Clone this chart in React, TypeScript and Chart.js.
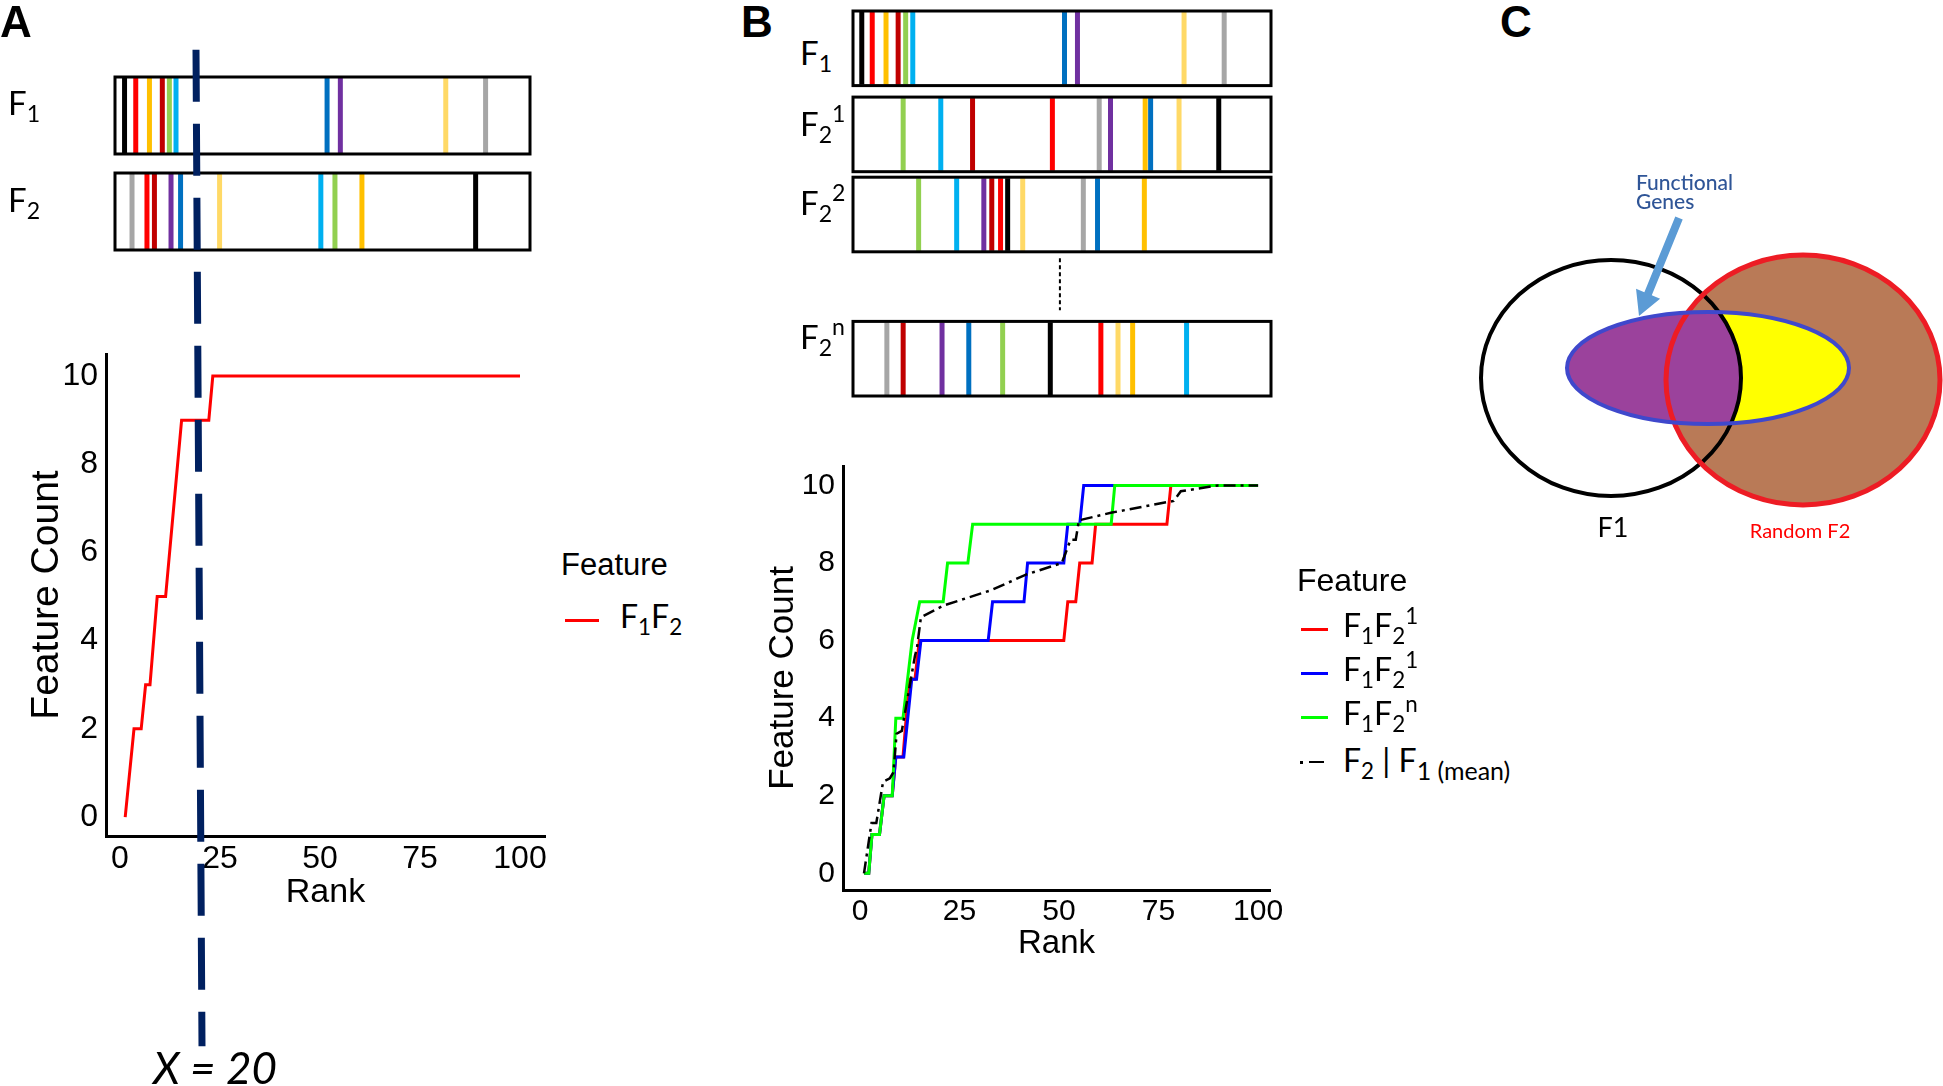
import React, { useEffect, useRef } from 'react';
import { Chart, registerables } from 'chart.js';
Chart.register(...registerables);

// ================= DATA =================
// ten features shown as coloured bars in every rank strip
const featureNames = ['black', 'red', 'orange', 'darkRed', 'green', 'cyan', 'blue', 'purple', 'lightYellow', 'gray'];
const featureColors = ['#000000', '#FF0000', '#FFC000', '#C00000', '#92D050', '#00B0F0', '#0070C0', '#7030A0', '#FFD966', '#A6A6A6'];

// rank position (0-100 along the strip) of each feature, in featureNames order
const stripA_F1 = [2.3, 5.0, 8.3, 11.4, 13.1, 14.7, 51.1, 54.3, 79.7, 89.3];
const stripA_F2 = [86.9, 7.7, 59.5, 9.5, 53.0, 49.6, 15.8, 13.5, 25.2, 4.1];
const stripB_F1 = [2.1, 4.6, 7.9, 10.8, 12.6, 14.3, 50.6, 53.7, 79.2, 88.8];
const stripB_F2_1 = [87.5, 47.7, 69.9, 28.6, 12.0, 21.0, 71.2, 61.6, 78.0, 58.9];
const stripB_F2_2 = [37.0, 35.3, 69.7, 33.2, 15.7, 24.8, 58.5, 31.3, 40.6, 55.1];
const stripB_F2_n = [47.2, 59.3, 66.9, 12.0, 35.8, 79.8, 27.7, 21.3, 63.4, 8.1];

const rankTicks = [0, 25, 50, 75, 100];
const countTicks = [0, 2, 4, 6, 8, 10];

// Panel A: F1F2 cumulative feature count
const aRank = [1.3, 3.5, 5.3, 6.4, 7.5, 9.3, 11.4, 12.4, 13.4, 14.4, 15.4, 22.2, 23.2, 100];
const aCount = [0, 2, 2, 3, 3, 5, 5, 6, 7, 8, 9, 9, 10, 10];
// X = 20 cut-off marker (rank, count ends of the dashed line)
const cutoffRank = [19.0, 20.5];
const cutoffCount = [17.4, -5.2];

// Panel B series
const bRedRank = [1, 2.2, 3, 4.9, 6.05, 8.1, 9, 10.8, 12.4, 13.8, 14.9, 51.2, 52.2, 54.2, 55.2, 58.3, 59.2, 77.1, 78.1, 100];
const bRedCount = [0, 0, 1, 1, 2, 2, 3, 3, 5, 5, 6, 6, 7, 7, 8, 8, 9, 9, 10, 10];
const bBlueRank = [1, 2.2, 3, 4.9, 6.05, 8.1, 9, 11, 13, 14.2, 15.3, 32.2, 33.3, 41.2, 42.1, 51.2, 52.2, 55.2, 56.2, 100];
const bBlueCount = [0, 0, 1, 1, 2, 2, 3, 3, 5, 5, 6, 6, 7, 7, 8, 8, 9, 9, 10, 10];
const bGreenRank = [1, 2.2, 3, 4.9, 6.05, 8.1, 9, 10.8, 13.1, 15, 20.9, 22, 27.1, 28.3, 63.1, 64, 100];
const bGreenCount = [0, 0, 1, 1, 2, 2, 4, 4, 6, 7, 7, 8, 8, 9, 9, 10, 10];
const bMeanRank = [1, 2.9, 4.1, 5.8, 7.5, 8.4, 9.2, 10.5, 13.8, 14.3, 15.3, 20.9, 33, 41.7, 50.7, 52.9, 54.2, 55, 63.3, 78.8, 80.6, 90, 100];
const bMeanCount = [0, 1.3, 1.3, 2.36, 2.45, 2.6, 3.6, 3.67, 5.6, 5.8, 6.6, 6.9, 7.3, 7.7, 8.0, 8.6, 8.6, 9.1, 9.3, 9.6, 9.85, 10, 10];

// Panel C Venn sets (diagram units)
const vennSets = ['F1', 'Random F2', 'Functional Genes'];
const vennCx = [151, 343, 248];
const vennCy = [228, 230, 218];
const vennRx = [130, 137, 141];
const vennRy = [118, 125, 56];
const arrowFrom = [219, 68];
const arrowTo = [179, 166];

// ================= STYLE =================
const SANS = '"Liberation Sans", Arial, Helvetica, sans-serif';
const CAL = 'Lato, "Open Sans", sans-serif';

const toXY = (xs: number[], ys: number[]) => xs.map((x, i) => ({ x, y: ys[i] }));

type Seg = [string, string?];
function Rich({ segs }: { segs: Seg[] }) {
  return (
    <>
      {segs.map(([t, m], i) =>
        m ? (
          <span key={i} style={{ fontSize: m === 'subL' ? '0.78em' : '0.7em', position: 'relative', top: m === 'sup' ? '-0.6em' : '0.32em' }}>{t}</span>
        ) : (
          <span key={i}>{t}</span>
        )
      )}
    </>
  );
}

function Txt(props: any) {
  const { x, cy, size, family = SANS, color = '#000', weight = 400, italic = false, center = false, children } = props;
  const k = family === CAL ? 0.529 : 0.4885;
  return (
    <div
      style={{
        position: 'absolute', left: x, top: cy - k * size, fontFamily: family, fontSize: size, lineHeight: 1,
        color, fontWeight: weight, fontStyle: italic ? 'italic' : 'normal', whiteSpace: 'pre',
        transform: center ? 'translateX(-50%)' : undefined,
      }}
    >
      {children}
    </div>
  );
}

function Bar({ x, y, w, h, color }: any) {
  return <div style={{ position: 'absolute', left: x, top: y - h / 2, width: w, height: h, background: color }} />;
}

function ChartCanvas({ left, top, width, height, config }: any) {
  const ref = useRef<HTMLCanvasElement | null>(null);
  useEffect(() => {
    if (!ref.current) return;
    const chart = new Chart(ref.current, config());
    return () => chart.destroy();
  }, []);
  return <canvas ref={ref} width={width} height={height} style={{ position: 'absolute', left, top, width, height }} />;
}

function barcodeConfig(strips: number[][], rowCenters: number[], yMax: number, padding: any, extra?: (c: any) => void) {
  return {
    type: 'scatter',
    data: {
      datasets: strips.map((pos, r) => ({
        label: 'strip' + r,
        data: pos.map((p) => ({ x: p, y: rowCenters[r] })),
        pointStyle: 'line',
        pointRotation: 90,
        pointBorderColor: featureColors,
        pointBackgroundColor: featureColors,
        pointBorderWidth: 5,
        pointRadius: (ctx: any) => {
          const y = ctx.chart.scales.y;
          return Math.abs(y.getPixelForValue(0.5) - y.getPixelForValue(0)) - 1;
        },
        clip: false,
      })),
    },
    options: {
      responsive: false,
      animation: false,
      events: [],
      layout: { padding },
      plugins: { legend: { display: false }, tooltip: { enabled: false } },
      scales: {
        x: { type: 'linear', min: 0, max: 100, display: false },
        y: { type: 'linear', min: 0, max: yMax, reverse: true, display: false },
      },
    },
    plugins: [
      {
        id: 'stripBoxes',
        afterDatasetsDraw(chart: any) {
          const { ctx } = chart;
          const { x, y } = chart.scales;
          ctx.save();
          ctx.strokeStyle = '#000';
          ctx.lineWidth = 3;
          rowCenters.forEach((c) => {
            const l = x.getPixelForValue(0);
            const r = x.getPixelForValue(100);
            const t = y.getPixelForValue(c - 0.5);
            const b = y.getPixelForValue(c + 0.5);
            ctx.strokeRect(l, Math.min(t, b), r - l, Math.abs(b - t));
          });
          if (extra) extra(chart);
          ctx.restore();
        },
      },
    ],
  };
}

function plotConfig(p: any) {
  return {
    type: 'line',
    data: { datasets: p.datasets },
    options: {
      responsive: false,
      animation: false,
      events: [],
      layout: { padding: p.padding },
      plugins: { legend: { display: false }, tooltip: { enabled: false } },
      elements: { line: { tension: 0 }, point: { radius: 0 } },
      scales: {
        x: {
          type: 'linear', min: p.xMin, max: p.xMax,
          grid: { display: false, drawTicks: false },
          border: { display: true, color: '#000', width: 3 },
          ticks: {
            color: '#000', font: { family: SANS, size: p.tickSize }, padding: p.xTickPad,
            autoSkip: false, maxRotation: 0, minRotation: 0, callback: (v: any) => String(v),
          },
          afterBuildTicks: (s: any) => { s.ticks = rankTicks.map((v) => ({ value: v })); },
          afterFit: (s: any) => { s.height = p.xAxisHeight; },
          title: {
            display: true, text: 'Rank', color: '#000', font: { family: SANS, size: p.xTitleSize },
            padding: { top: 0, bottom: p.xTitlePad },
          },
        },
        y: {
          type: 'linear', min: p.yMin, max: p.yMax,
          grid: { display: false, drawTicks: false },
          border: { display: true, color: '#000', width: 3 },
          ticks: {
            color: '#000', font: { family: SANS, size: p.tickSize }, padding: p.yTickPad,
            autoSkip: false, callback: (v: any) => String(v),
          },
          afterBuildTicks: (s: any) => { s.ticks = countTicks.map((v) => ({ value: v })); },
          afterFit: (s: any) => { s.width = p.yAxisWidth; },
          title: {
            display: true, text: 'Feature Count', color: '#000', font: { family: SANS, size: p.yTitleSize },
            padding: { top: p.yTitlePad, bottom: 0 },
          },
        },
      },
    },
  };
}

const configA = () =>
  plotConfig({
    datasets: [
      { label: 'F1F2', data: toXY(aRank, aCount), borderColor: '#FF0000', borderWidth: 3, pointRadius: 0, order: 2 },
      {
        label: 'X = 20', data: toXY(cutoffRank, cutoffCount), borderColor: '#002060', borderWidth: 7,
        borderDash: [52, 22], borderCapStyle: 'butt', pointRadius: 0, clip: false, order: 1,
      },
    ],
    xMin: -3.5, xMax: 106.25, yMin: -0.43, yMax: 10.5,
    yAxisWidth: 106, xAxisHeight: 80,
    padding: { left: 0, top: 354, right: 15, bottom: 170 },
    tickSize: 32, xTitleSize: 34, yTitleSize: 39, xTitlePad: 3, yTitlePad: 24, xTickPad: 4, yTickPad: 8,
  });

const configB = () =>
  plotConfig({
    datasets: [
      { label: 'F1F2^1 (red)', data: toXY(bRedRank, bRedCount), borderColor: '#FF0000', borderWidth: 3, pointRadius: 0, order: 4 },
      { label: 'F1F2^1 (blue)', data: toXY(bBlueRank, bBlueCount), borderColor: '#0000FF', borderWidth: 3, pointRadius: 0, order: 3 },
      { label: 'F1F2^n', data: toXY(bGreenRank, bGreenCount), borderColor: '#00FF00', borderWidth: 3, pointRadius: 0, order: 2 },
      {
        label: 'F2|F1 (mean)', data: toXY(bMeanRank, bMeanCount), borderColor: '#000000', borderWidth: 2.5,
        borderDash: [12, 5, 3, 5], pointRadius: 0, order: 1,
      },
    ],
    xMin: -4.27, xMax: 103.0, yMin: -0.43, yMax: 10.5,
    yAxisWidth: 103, xAxisHeight: 80,
    padding: { left: 0, top: 15, right: 30, bottom: 0 },
    tickSize: 30, xTitleSize: 33, yTitleSize: 35, xTitlePad: 6, yTitlePad: 22, xTickPad: 4, yTickPad: 8,
  });

const configBarA = () =>
  barcodeConfig([stripA_F1, stripA_F2], [0.5, 1.747], 2.247, { left: 15, right: 20, top: 17, bottom: 20 });

const configBarB = () =>
  barcodeConfig(
    [stripB_F1, stripB_F2_1, stripB_F2_2, stripB_F2_n],
    [0.5, 1.654, 2.728, 4.661],
    5.161,
    { left: 13, right: 9, top: 11, bottom: 14 },
    (chart: any) => {
      const { ctx } = chart;
      const { x, y } = chart.scales;
      ctx.strokeStyle = '#000';
      ctx.lineWidth = 2;
      ctx.setLineDash([4, 3]);
      ctx.beginPath();
      ctx.moveTo(x.getPixelForValue(49.5), y.getPixelForValue(3.315));
      ctx.lineTo(x.getPixelForValue(49.5), y.getPixelForValue(4.01));
      ctx.stroke();
      ctx.setLineDash([]);
    }
  );

const configVenn = () => ({
  type: 'scatter',
  data: {
    datasets: [
      { label: 'sets', data: toXY(vennCx, vennCy), pointRadius: 0 },
    ],
  },
  options: {
    responsive: false,
    animation: false,
    events: [],
    layout: { padding: 0 },
    plugins: { legend: { display: false }, tooltip: { enabled: false } },
    scales: {
      x: { type: 'linear', min: 0, max: 483, display: false },
      y: { type: 'linear', min: 0, max: 420, reverse: true, display: false },
    },
  },
  plugins: [
    {
      id: 'venn',
      afterDatasetsDraw(chart: any) {
        const { ctx } = chart;
        const { x, y } = chart.scales;
        const E = (i: number) => {
          const cx = x.getPixelForValue(vennCx[i]);
          const cy = y.getPixelForValue(vennCy[i]);
          return {
            cx, cy,
            rx: Math.abs(x.getPixelForValue(vennCx[i] + vennRx[i]) - cx),
            ry: Math.abs(y.getPixelForValue(vennCy[i] + vennRy[i]) - cy),
          };
        };
        const path = (e: any) => { ctx.beginPath(); ctx.ellipse(e.cx, e.cy, e.rx, e.ry, 0, 0, Math.PI * 2); };
        const f1 = E(0), f2 = E(1), fg = E(2);
        ctx.save();
        path(f2); ctx.fillStyle = '#B97A57'; ctx.fill();
        path(fg); ctx.fillStyle = '#FFFF00'; ctx.fill();
        ctx.save(); path(f1); ctx.clip(); path(fg); ctx.fillStyle = '#9B429C'; ctx.fill(); ctx.restore();
        path(f1); ctx.strokeStyle = '#000000'; ctx.lineWidth = 4; ctx.stroke();
        path(f2); ctx.strokeStyle = '#ED1C24'; ctx.lineWidth = 5; ctx.stroke();
        path(fg); ctx.strokeStyle = '#3F48CC'; ctx.lineWidth = 4; ctx.stroke();
        // arrow
        const ax = x.getPixelForValue(arrowFrom[0]), ay = y.getPixelForValue(arrowFrom[1]);
        const bx = x.getPixelForValue(arrowTo[0]), by = y.getPixelForValue(arrowTo[1]);
        const len = Math.hypot(bx - ax, by - ay);
        const ux = (bx - ax) / len, uy = (by - ay) / len;
        const nx = -uy, ny = ux;
        const head = 24, hw = 13, sw = 4;
        const hx = bx - ux * head, hy = by - uy * head;
        ctx.fillStyle = '#5B9BD5';
        ctx.beginPath();
        ctx.moveTo(ax + nx * sw, ay + ny * sw);
        ctx.lineTo(hx + nx * sw, hy + ny * sw);
        ctx.lineTo(hx + nx * hw, hy + ny * hw);
        ctx.lineTo(bx, by);
        ctx.lineTo(hx - nx * hw, hy - ny * hw);
        ctx.lineTo(hx - nx * sw, hy - ny * sw);
        ctx.lineTo(ax - nx * sw, ay - ny * sw);
        ctx.closePath();
        ctx.fill();
        ctx.restore();
      },
    },
  ],
});

export default function App() {
  return (
    <div style={{ position: 'absolute', left: 0, top: 0, width: 1943, height: 1086, background: '#fff', overflow: 'hidden' }}>
      {/* Panel A */}
      <ChartCanvas left={100} top={60} width={450} height={210} config={configBarA} />
      <ChartCanvas left={0} top={0} width={560} height={1086} config={configA} />
      <Txt x={0} cy={21.5} size={44} weight={700}>A</Txt>
      <Txt x={8} cy={103} size={33} family={CAL}><Rich segs={[['F'], ['1', 'sub']]} /></Txt>
      <Txt x={8} cy={200} size={33} family={CAL}><Rich segs={[['F'], ['2', 'sub']]} /></Txt>
      <Txt x={561} cy={564} size={31}>Feature</Txt>
      <Bar x={565} y={620} w={34} h={3} color="#FF0000" />
      <Txt x={620} cy={617} size={32} family={CAL}><Rich segs={[['F'], ['1', 'sub'], ['F'], ['2', 'sub']]} /></Txt>
      <Txt x={215} cy={1068} size={44} family={CAL} italic center>X = 20</Txt>

      {/* Panel B */}
      <ChartCanvas left={840} top={0} width={440} height={410} config={configBarB} />
      <ChartCanvas left={740} top={440} width={560} height={530} config={configB} />
      <Txt x={741} cy={21.5} size={44} weight={700}>B</Txt>
      <Txt x={800} cy={53} size={33} family={CAL}><Rich segs={[['F'], ['1', 'sub']]} /></Txt>
      <Txt x={800} cy={124} size={33} family={CAL}><Rich segs={[['F'], ['2', 'sub'], ['1', 'sup']]} /></Txt>
      <Txt x={800} cy={203} size={33} family={CAL}><Rich segs={[['F'], ['2', 'sub'], ['2', 'sup']]} /></Txt>
      <Txt x={800} cy={337} size={33} family={CAL}><Rich segs={[['F'], ['2', 'sub'], ['n', 'sup']]} /></Txt>
      <Txt x={1297} cy={580} size={32}>Feature</Txt>
      <Bar x={1301} y={629} w={27} h={3} color="#FF0000" />
      <Bar x={1301} y={673} w={27} h={3} color="#0000FF" />
      <Bar x={1301} y={717} w={27} h={3} color="#00FF00" />
      <Bar x={1300} y={762} w={3} h={3} color="#000000" />
      <Bar x={1309} y={762} w={15} h={2.5} color="#000000" />
      <Txt x={1343} cy={626} size={32} family={CAL}><Rich segs={[['F'], ['1', 'sub'], ['F'], ['2', 'sub'], ['1', 'sup']]} /></Txt>
      <Txt x={1343} cy={670} size={32} family={CAL}><Rich segs={[['F'], ['1', 'sub'], ['F'], ['2', 'sub'], ['1', 'sup']]} /></Txt>
      <Txt x={1343} cy={714} size={32} family={CAL}><Rich segs={[['F'], ['1', 'sub'], ['F'], ['2', 'sub'], ['n', 'sup']]} /></Txt>
      <Txt x={1343} cy={761} size={32} family={CAL}><Rich segs={[['F'], ['2', 'sub'], [' | '], ['F'], ['1 (mean)', 'subL']]} /></Txt>

      {/* Panel C */}
      <ChartCanvas left={1460} top={150} width={483} height={420} config={configVenn} />
      <Txt x={1500} cy={21.5} size={44} weight={700}>C</Txt>
      <Txt x={1636} cy={182} size={21} family={CAL} color="#2F5597" weight={500}>Functional</Txt>
      <Txt x={1636} cy={201} size={21} family={CAL} color="#2F5597" weight={500}>Genes</Txt>
      <Txt x={1613} cy={527} size={27} family={CAL} center>{vennSets[0]}</Txt>
      <Txt x={1800} cy={531} size={20} family={CAL} color="#FF0000" center>{vennSets[1]}</Txt>
    </div>
  );
}
